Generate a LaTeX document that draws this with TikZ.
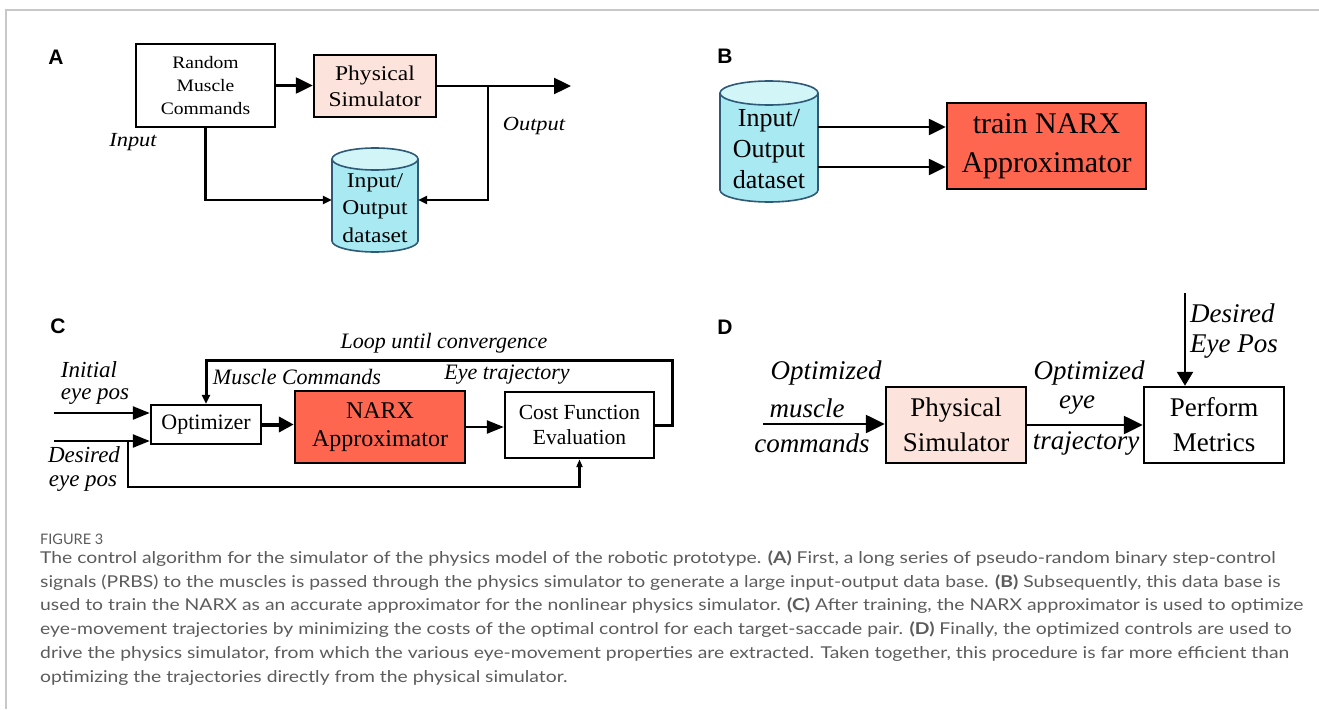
\documentclass[tikz,border=0pt]{standalone}
\usepackage{fontspec}
\setmainfont{Liberation Serif}
\newfontfamily\serA[FakeStretch=1.12]{Liberation Serif}
\newfontfamily\capfont[FakeStretch=1.185]{Lato}
\newfontfamily\figfont{Lato}
\newfontfamily\lblfont{Liberation Sans}
\usetikzlibrary{arrows.meta}
\definecolor{pinkbox}{HTML}{FCE4DC}
\definecolor{redbox}{HTML}{FF6650}
\definecolor{cylbody}{HTML}{A8E9F2}
\definecolor{cyltop}{HTML}{D2F6F8}
\definecolor{cyledge}{HTML}{2E5A78}
\definecolor{capgray}{HTML}{5C5C5C}
\definecolor{framegray}{HTML}{C8C8C8}
\newcommand{\fs}[2]{\fontsize{#1}{#2}\selectfont}
\begin{document}
\begin{tikzpicture}[x=1pt,y=-1pt,
  box/.style={draw=black, line width=2.4pt, align=center, inner sep=0pt},
  arrbig/.style={line width=2.4pt, -{Triangle[length=17pt,width=16pt]}},
  arrsm/.style={line width=2.4pt, -{Triangle[length=9pt,width=8pt]}},
  arrC/.style={line width=2.4pt, -{Triangle[length=17pt,width=13pt]}},
  arrD/.style={line width=2.4pt, -{Triangle[length=19pt,width=18pt]}},
  panel/.style={font=\lblfont\bfseries\fs{21}{24}, inner sep=0pt},
  lblA/.style={font=\serA\itshape\fs{20}{24}, inner sep=0pt},
  lblC/.style={font=\itshape\fs{22}{26}, inner sep=0pt},
  lblD/.style={font=\itshape\fs{27}{34}, inner sep=0pt, align=left},
  capline/.style={font=\capfont\fs{16.3}{20}, text=capgray, anchor=base west, inner sep=0pt}
]
\useasboundingbox (0,0) rectangle (1319,709);
\fill[white] (0,0) rectangle (1319,709);
\draw[framegray, line width=1.2pt] (6,709) -- (6,10) -- (1319,10);

% ---------------- Panel A ----------------
\node[panel] (labA) at (56,57) {A};
\node[box, minimum width=139pt, minimum height=83pt, font=\serA\fs{17.5}{23}] (rmc) at (205.5,85.5) {Random\\Muscle\\Commands};
\node[box, fill=pinkbox, minimum width=122pt, minimum height=62pt, font=\serA\fs{21}{26}] (physA) at (375,86) {Physical\\Simulator};
\coordinate (outA) at (571,86);
\coordinate (brA) at (488,86);
\node[inner sep=0pt, minimum width=86pt, minimum height=104pt] (dsA) at (375,200) {};
\fill[cylbody] (332,159) -- (332,241) arc[start angle=180,end angle=360,x radius=43pt,y radius=11pt] -- (418,159) arc[start angle=0,end angle=180,x radius=43pt,y radius=11pt] -- cycle;
\draw[cyledge, line width=1.6pt] (332,159) -- (332,241) arc[start angle=180,end angle=360,x radius=43pt,y radius=11pt] -- (418,159);
\filldraw[fill=cyltop, draw=cyledge, line width=1.6pt] (375,159) ellipse [x radius=43pt, y radius=11pt];
\node[font=\serA\fs{21}{27.5}, align=center, inner sep=0pt] (dsAt) at (375,208) {Input/\\Output\\dataset};
\draw[arrbig] (rmc.east) -- (rmc.east -| physA.west);
\draw[arrbig] (physA.east) -- (outA);
\draw[arrsm] (rmc.south) |- (dsA.west);
\draw[arrsm] (brA) |- (dsA.east);
\node[lblA] (inAl) at (133,142) {Input};
\node[lblA] (outAl) at (534,126) {Output};

% ---------------- Panel B ----------------
\node[panel] (labB) at (725,56) {B};
\node[inner sep=0pt, minimum width=98pt, minimum height=121pt] (dsB) at (769,141.5) {};
\fill[cylbody] (720,93) -- (720,190) arc[start angle=180,end angle=360,x radius=49pt,y radius=12pt] -- (818,93) arc[start angle=0,end angle=180,x radius=49pt,y radius=12pt] -- cycle;
\draw[cyledge, line width=1.6pt] (720,93) -- (720,190) arc[start angle=180,end angle=360,x radius=49pt,y radius=12pt] -- (818,93);
\filldraw[fill=cyltop, draw=cyledge, line width=1.6pt] (769,93) ellipse [x radius=49pt, y radius=12pt];
\node[font=\fs{26}{31}, align=center, inner sep=0pt] (dsBt) at (769,149) {Input/\\Output\\dataset};
\node[box, fill=redbox, minimum width=199pt, minimum height=86pt, font=\fs{30}{39}] (trB) at (1046.5,146) {train NARX\\Approximator};
\draw[arrbig] ([yshift=19pt]trB.west -| dsB.east) -- ([yshift=19pt]trB.west);
\draw[arrbig] ([yshift=-21pt]trB.west -| dsB.east) -- ([yshift=-21pt]trB.west);

% ---------------- Panel C ----------------
\node[panel] (labC) at (58,326) {C};
\node[box, minimum width=110pt, minimum height=39pt, font=\fs{22}{26}] (opt) at (206,424.5) {Optimizer};
\node[box, fill=redbox, minimum width=170pt, minimum height=72pt, font=\fs{24}{28}] (narx) at (380,427) {NARX\\Approximator};
\node[box, minimum width=149pt, minimum height=66pt, font=\fs{21.5}{25}] (cost) at (579.5,425) {Cost Function\\Evaluation};
\coordinate (in1) at (54,413);
\coordinate (in2) at (54,441);
\coordinate (br2) at (128,441);
\coordinate (botC) at (128,487);
\coordinate (loopTR) at (672,360);
\draw[arrC] (in1) -- (in1 -| opt.west);
\draw[arrC] (in2) -- (in2 -| opt.west);
\draw[line width=2.4pt, -{Triangle[length=8pt,width=6pt]}] (br2) -- (botC) -| (cost.south);
\draw[line width=4pt, -{Triangle[length=15pt,width=15pt]}] (opt.east) -- (opt.east -| narx.west);
\draw[arrC] (narx.east) -- (narx.east -| cost.west);
\draw[line width=3pt, -{Triangle[length=9pt,width=8pt]}] (cost.east) -| (loopTR) -| (opt.north);
\node[lblC] (loopl) at (444,343) {Loop until convergence};
\node[lblC] (mcl) at (297,377) {Muscle Commands};
\node[lblC] (etl) at (507,375) {Eye trajectory};
\node[lblC, font=\itshape\fs{23}{26}] (iniA) at (89,370) {Initial};
\node[lblC, font=\itshape\fs{23}{26}] (iniB) at (95,397) {eye pos};
\node[lblC, font=\itshape\fs{23}{26}] (desA) at (84,455) {Desired};
\node[lblC, font=\itshape\fs{23}{26}] (desB) at (83,484) {eye pos};

% ---------------- Panel D ----------------
\node[panel] (labD) at (725,327) {D};
\node[box, fill=pinkbox, minimum width=140pt, minimum height=76pt, font=\fs{27}{35}] (physD) at (956,425) {Physical\\Simulator};
\node[box, minimum width=140pt, minimum height=76pt, font=\fs{27}{35}] (perf) at (1214,425) {Perform\\Metrics};
\coordinate (dIn) at (763,424);
\coordinate (dTop) at (1185,293);
\draw[arrD] (dIn) -- (dIn -| physD.west);
\draw[arrD] (physD.east) -- (physD.east -| perf.west);
\draw[line width=2.4pt, -{Triangle[length=14pt,width=16pt]}] (dTop) -- (dTop |- perf.north);
\node[lblD] (omA) at (826,373) {Optimized};
\node[lblD] (omB) at (807,408) {muscle};
\node[lblD] (omC) at (812,443) {commands};
\node[lblD] (oeA) at (1089,373) {Optimized};
\node[lblD] (oeB) at (1077,405) {eye};
\node[lblD] (oeC) at (1086,443) {trajectory};
\node[lblD, anchor=west] (deA) at (1190,313) {Desired};
\node[lblD, anchor=west] (deB) at (1190,347) {Eye Pos};

% ---------------- Caption ----------------
\node[capline, font=\figfont\fs{14.5}{16}] (fig) at (40,544) {FIGURE 3};
\node[capline] (cap1) at (40,563) {The control algorithm for the simulator of the physics model of the robotic prototype. \textbf{(A)} First, a long series of pseudo-random binary step-control};
\node[capline] (cap2) at (40,587) {signals (PRBS) to the muscles is passed through the physics simulator to generate a large input-output data base. \textbf{(B)} Subsequently, this data base is};
\node[capline] (cap3) at (40,610.5) {used to train the NARX as an accurate approximator for the nonlinear physics simulator. \textbf{(C)} After training, the NARX approximator is used to optimize};
\node[capline] (cap4) at (40,634) {eye-movement trajectories by minimizing the costs of the optimal control for each target-saccade pair. \textbf{(D)} Finally, the optimized controls are used to};
\node[capline] (cap5) at (40,658) {drive the physics simulator, from which the various eye-movement properties are extracted. Taken together, this procedure is far more efficient than};
\node[capline] (cap6) at (40,682) {optimizing the trajectories directly from the physical simulator.};
\end{tikzpicture}
\end{document}
